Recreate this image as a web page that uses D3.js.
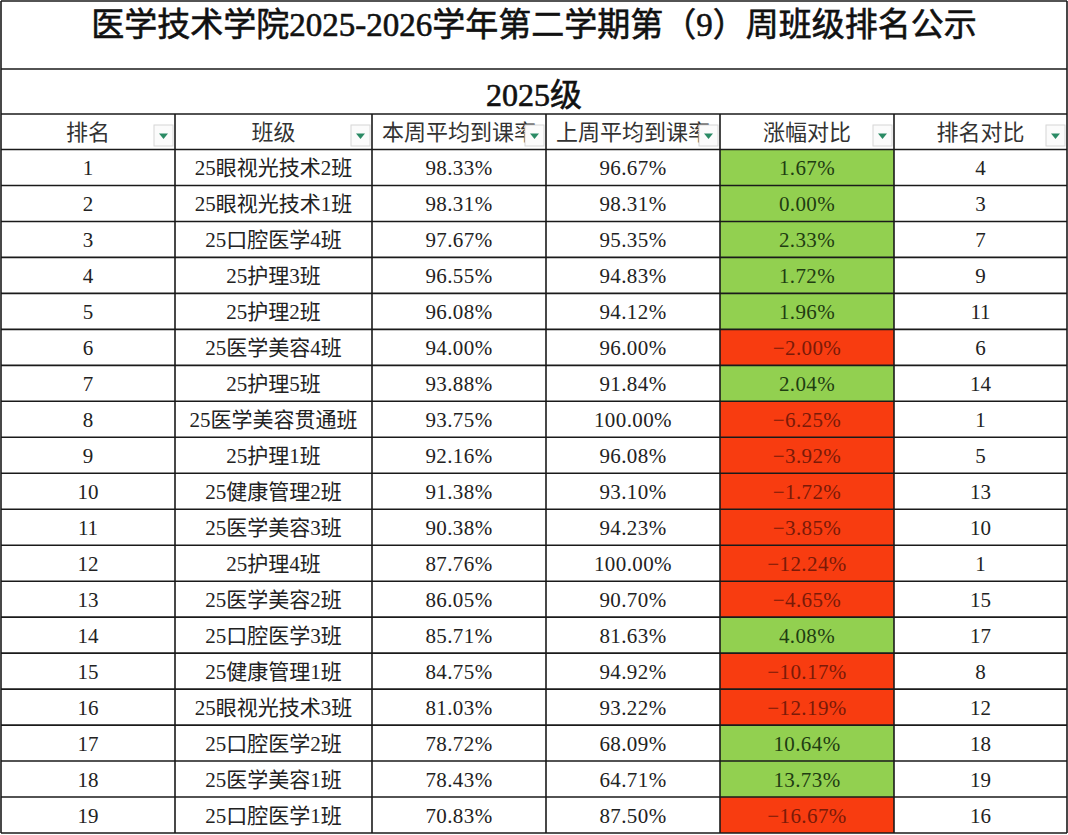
<!DOCTYPE html>
<html>
<head>
<meta charset="utf-8">
<script src="https://cdn.jsdelivr.net/npm/d3@7"></script>
<style>
  html, body { margin: 0; padding: 0; background: #fff; }
  svg { display: block; }
  text { font-family: "Liberation Serif", "Noto Sans CJK SC", serif; }
</style>
</head>
<body>
<div id="chart"></div>
<script>
// --- data ---
const title = "医学技术学院2025-2026学年第二学期第（9）周班级排名公示";
const subtitle = "2025级";
const headers = ["排名", "班级", "本周平均到课率", "上周平均到课率", "涨幅对比", "排名对比"];

const ranks = d3.range(1, 20);
const classes = [
  "25眼视光技术2班", "25眼视光技术1班", "25口腔医学4班", "25护理3班", "25护理2班",
  "25医学美容4班", "25护理5班", "25医学美容贯通班", "25护理1班", "25健康管理2班",
  "25医学美容3班", "25护理4班", "25医学美容2班", "25口腔医学3班", "25健康管理1班",
  "25眼视光技术3班", "25口腔医学2班", "25医学美容1班", "25口腔医学1班"
];
const thisWeek = [98.33, 98.31, 97.67, 96.55, 96.08, 94.00, 93.88, 93.75, 92.16, 91.38,
                  90.38, 87.76, 86.05, 85.71, 84.75, 81.03, 78.72, 78.43, 70.83];
const lastWeek = [96.67, 98.31, 95.35, 94.83, 94.12, 96.00, 91.84, 100.00, 96.08, 93.10,
                  94.23, 100.00, 90.70, 81.63, 94.92, 93.22, 68.09, 64.71, 87.50];
const change = [1.67, 0.00, 2.33, 1.72, 1.96, -2.00, 2.04, -6.25, -3.92, -1.72,
                -3.85, -12.24, -4.65, 4.08, -10.17, -12.19, 10.64, 13.73, -16.67];
const lastRank = [4, 3, 7, 9, 11, 6, 14, 1, 5, 13, 10, 1, 15, 17, 8, 12, 18, 19, 16];

// --- layout ---
const W = 1068, H = 835;
const colWidths = [174, 197, 174, 174, 174, 173];
const tblLeft = 1, tblTop = 1;
const titleBottom = 69, subBottom = 114, headBottom = 149.5, tableBottom = 833;

const svg = d3.select("#chart").append("svg").attr("width", W).attr("height", H);

const colEdges = [tblLeft, ...Array.from(d3.cumsum(colWidths), v => tblLeft + v)];
const tblRight = colEdges[colEdges.length - 1];
const colX = d3.scaleOrdinal().domain(d3.range(headers.length)).range(colEdges.slice(0, -1));
const colW = i => colWidths[i];

const y = d3.scaleBand().domain(ranks).range([headBottom, tableBottom]).paddingInner(0);

const fill = d3.scaleThreshold().domain([0]).range(["#f83c10", "#92d050"]);
const ink = d3.scaleThreshold().domain([0]).range(["#7a1a08", "#1f3d12"]);
const pct = d => d3.format(".2f")(d) + "%";

const rows = ranks.map((r, i) => ({
  rank: r, cls: classes[i], cur: thisWeek[i], prev: lastWeek[i], chg: change[i], prevRank: lastRank[i]
}));

// coloured change cells
svg.append("g").selectAll("rect").data(rows).join("rect")
  .attr("x", colX(4)).attr("y", d => y(d.rank))
  .attr("width", colW(4)).attr("height", y.bandwidth())
  .attr("fill", d => fill(d.chg));

// title + subtitle (thin stroke = fake bold, like the spreadsheet)
svg.append("text").attr("x", (tblLeft + tblRight) / 2).attr("y", 25)
  .attr("text-anchor", "middle").attr("dominant-baseline", "central")
  .attr("font-size", 33).attr("fill", "#111")
  .attr("stroke", "#111").attr("stroke-width", 0.6)
  .text(title);
svg.append("text").attr("x", (tblLeft + tblRight) / 2).attr("y", 95)
  .attr("text-anchor", "middle").attr("dominant-baseline", "central")
  .attr("font-size", 32).attr("fill", "#111")
  .attr("stroke", "#111").attr("stroke-width", 0.6)
  .text(subtitle);

// header row
const head = svg.append("g").selectAll("g").data(headers).join("g")
  .attr("transform", (d, i) => `translate(${colX(i)},${subBottom})`);
head.append("text")
  .attr("x", (d, i) => colW(i) / 2).attr("y", (headBottom - subBottom) / 2 + 1)
  .attr("text-anchor", "middle").attr("dominant-baseline", "central")
  .attr("font-size", 22).attr("fill", "#333").text(d => d);
// filter buttons
head.append("rect")
  .attr("x", (d, i) => colW(i) - 21).attr("y", 11).attr("width", 19).attr("height", 21)
  .attr("fill", "#fbfbfb").attr("stroke", "#d6d6d6").attr("stroke-width", 1);
head.append("path")
  .attr("d", (d, i) => {
    const cx = colW(i) - 11.5, cy = 22;
    return `M${cx - 4.5},${cy - 2.5}L${cx + 4.5},${cy - 2.5}L${cx},${cy + 3}Z`;
  })
  .attr("fill", "#2a8a64");

// data cells
const cellText = [
  d => d.rank, d => d.cls, d => pct(d.cur), d => pct(d.prev), d => pct(d.chg), d => d.prevRank
];
const rowG = svg.append("g").selectAll("g").data(rows).join("g")
  .attr("transform", d => `translate(0,${y(d.rank)})`);
cellText.forEach((fn, ci) => {
  rowG.append("text")
    .attr("x", colX(ci) + colW(ci) / 2).attr("y", y.bandwidth() / 2 + 1)
    .attr("text-anchor", "middle").attr("dominant-baseline", "central")
    .attr("font-size", 21)
    .attr("letter-spacing", (ci >= 2 && ci <= 4) ? 0.4 : 0)
    .attr("fill", d => ci === 4 ? ink(d.chg) : "#222")
    .text(fn);
});

// grid lines
const grid = svg.append("g").attr("stroke", "#1a1a1a").attr("stroke-width", 1.6);
const hLines = [tblTop, titleBottom, subBottom, headBottom, ...ranks.map(r => y(r) + y.bandwidth())];
grid.selectAll("line.h").data(hLines).join("line").attr("class", "h")
  .attr("x1", tblLeft).attr("x2", tblRight).attr("y1", d => d).attr("y2", d => d);
grid.selectAll("line.v").data(colEdges).join("line").attr("class", "v")
  .attr("x1", d => d).attr("x2", d => d)
  .attr("y1", (d, i) => (i === 0 || i === colEdges.length - 1) ? tblTop : subBottom)
  .attr("y2", tableBottom);
</script>
</body>
</html>
